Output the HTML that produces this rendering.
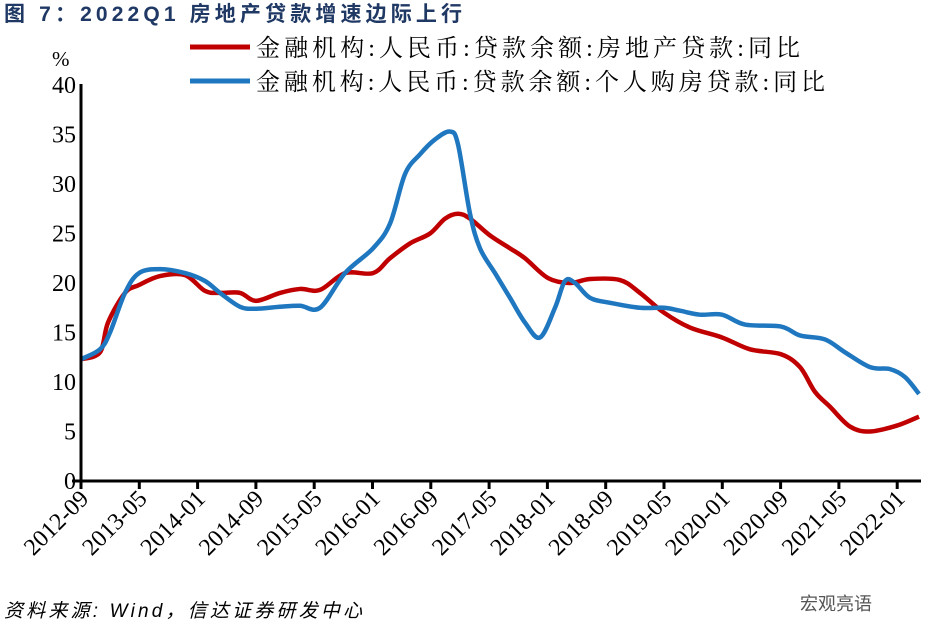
<!DOCTYPE html>
<html><head><meta charset="utf-8"><style>
body{margin:0;background:#fff;width:926px;height:642px;overflow:hidden}
svg{display:block}
</style></head><body>
<svg width="926" height="642" xmlns="http://www.w3.org/2000/svg" font-family="Liberation Serif, Noto Serif CJK SC, serif">
<text x="4" y="21" font-family="Liberation Sans, Noto Sans CJK SC, sans-serif" font-weight="bold" font-size="21" fill="#1f3864" textLength="458" lengthAdjust="spacing">图 7：2022Q1 房地产贷款增速边际上行</text>
<line x1="190" y1="47" x2="250" y2="47" stroke="#c00000" stroke-width="5"/>
<text x="256" y="56" font-family="Liberation Serif, Noto Serif CJK SC, serif" font-size="24" fill="#000" textLength="544" lengthAdjust="spacing">金融机构:人民币:贷款余额:房地产贷款:同比</text>
<line x1="190" y1="81" x2="250" y2="81" stroke="#1f77c0" stroke-width="5"/>
<text x="256" y="90" font-family="Liberation Serif, Noto Serif CJK SC, serif" font-size="24" fill="#000" textLength="569" lengthAdjust="spacing">金融机构:人民币:贷款余额:个人购房贷款:同比</text>
<text x="52" y="66" font-size="21">%</text>
<g font-size="24" text-anchor="end" id="yl"></g>
<g id="xl" font-size="24"></g>
<path id="red" fill="none" stroke="#c00000" stroke-width="4.5" stroke-linejoin="round"/>
<path id="blue" fill="none" stroke="#1f77c0" stroke-width="4.5" stroke-linejoin="round"/>
<line x1="81" y1="84" x2="81" y2="483" stroke="#000" stroke-width="3"/>
<line x1="72" y1="481" x2="921" y2="481" stroke="#000" stroke-width="3"/>
<g id="ticks" stroke="#000" stroke-width="3"></g>
<text x="4" y="617" font-family="Liberation Sans, Noto Sans CJK SC, sans-serif" font-style="italic" font-size="19" textLength="358" lengthAdjust="spacing">资料来源: Wind，信达证券研发中心</text>
<text x="800" y="610" font-family="Liberation Sans, Noto Sans CJK SC, sans-serif" font-size="18" fill="#555">宏观亮语</text>
</svg>
<script>
const NS="http://www.w3.org/2000/svg";
const Y=v=>481-9.9*v;
const yl=document.getElementById('yl');
for(let v=0;v<=40;v+=5){const t=document.createElementNS(NS,'text');t.setAttribute('x',76);t.setAttribute('y',Y(v)+8);t.textContent=v;yl.appendChild(t);}
const labs=["2012-09","2013-05","2014-01","2014-09","2015-05","2016-01","2016-09","2017-05","2018-01","2018-09","2019-05","2020-01","2020-09","2021-05","2022-01"];
const xl=document.getElementById('xl'),tk=document.getElementById('ticks');
labs.forEach((l,i)=>{const x=81+i*58.3;
const ln=document.createElementNS(NS,'line');ln.setAttribute('x1',x);ln.setAttribute('x2',x);ln.setAttribute('y1',481);ln.setAttribute('y2',489);tk.appendChild(ln);
const t=document.createElementNS(NS,'text');t.setAttribute('text-anchor','end');t.setAttribute('transform',`translate(${x+9},${500}) rotate(-45)`);t.textContent=l;xl.appendChild(t);});
const red=[[81,12.3],[100,13],[108,16],[125,19],[139,19.8],[160,20.7],[185,20.8],[205,19.2],[220,19],[240,19],[256,18.2],[280,19],[300,19.4],[320,19.3],[345,21],[373,21],[390,22.5],[410,24],[430,25],[445,26.5],[458,27],[470,26.5],[490,24.8],[510,23.5],[525,22.5],[548,20.5],[570,20],[590,20.4],[620,20.3],[640,19],[664,17],[690,15.5],[722,14.5],[750,13.3],[781,12.8],[800,11.5],[815,9],[830,7.5],[850,5.5],[870,5],[897,5.6],[919,6.5]];
const blue=[[81,12.3],[100,13.3],[110,15],[125,19],[139,21],[160,21.4],[185,21],[205,20.2],[220,19],[240,17.6],[256,17.4],[280,17.6],[300,17.7],[320,17.5],[345,21],[373,23.5],[390,26],[405,31],[420,33],[435,34.5],[450,35.3],[458,34],[470,27],[480,23.5],[495,21],[510,18.5],[525,16],[540,14.5],[555,17.5],[565,20.2],[575,20],[590,18.5],[610,18],[640,17.5],[664,17.5],[680,17.2],[700,16.8],[722,16.8],[745,15.8],[781,15.6],[800,14.7],[825,14.3],[845,13],[870,11.5],[890,11.3],[905,10.5],[919,8.8]];
function path(p){const q=p.map(([x,v])=>[x,Y(v)]);let d=`M${q[0][0]},${q[0][1]}`;
for(let i=0;i<q.length-1;i++){const p0=q[i-1]||q[i],p1=q[i],p2=q[i+1],p3=q[i+2]||p2;
d+=` C${p1[0]+(p2[0]-p0[0])/6},${p1[1]+(p2[1]-p0[1])/6} ${p2[0]-(p3[0]-p1[0])/6},${p2[1]-(p3[1]-p1[1])/6} ${p2[0]},${p2[1]}`;}return d;}
document.getElementById('red').setAttribute('d',path(red));
document.getElementById('blue').setAttribute('d',path(blue));
</script>
</body></html>
